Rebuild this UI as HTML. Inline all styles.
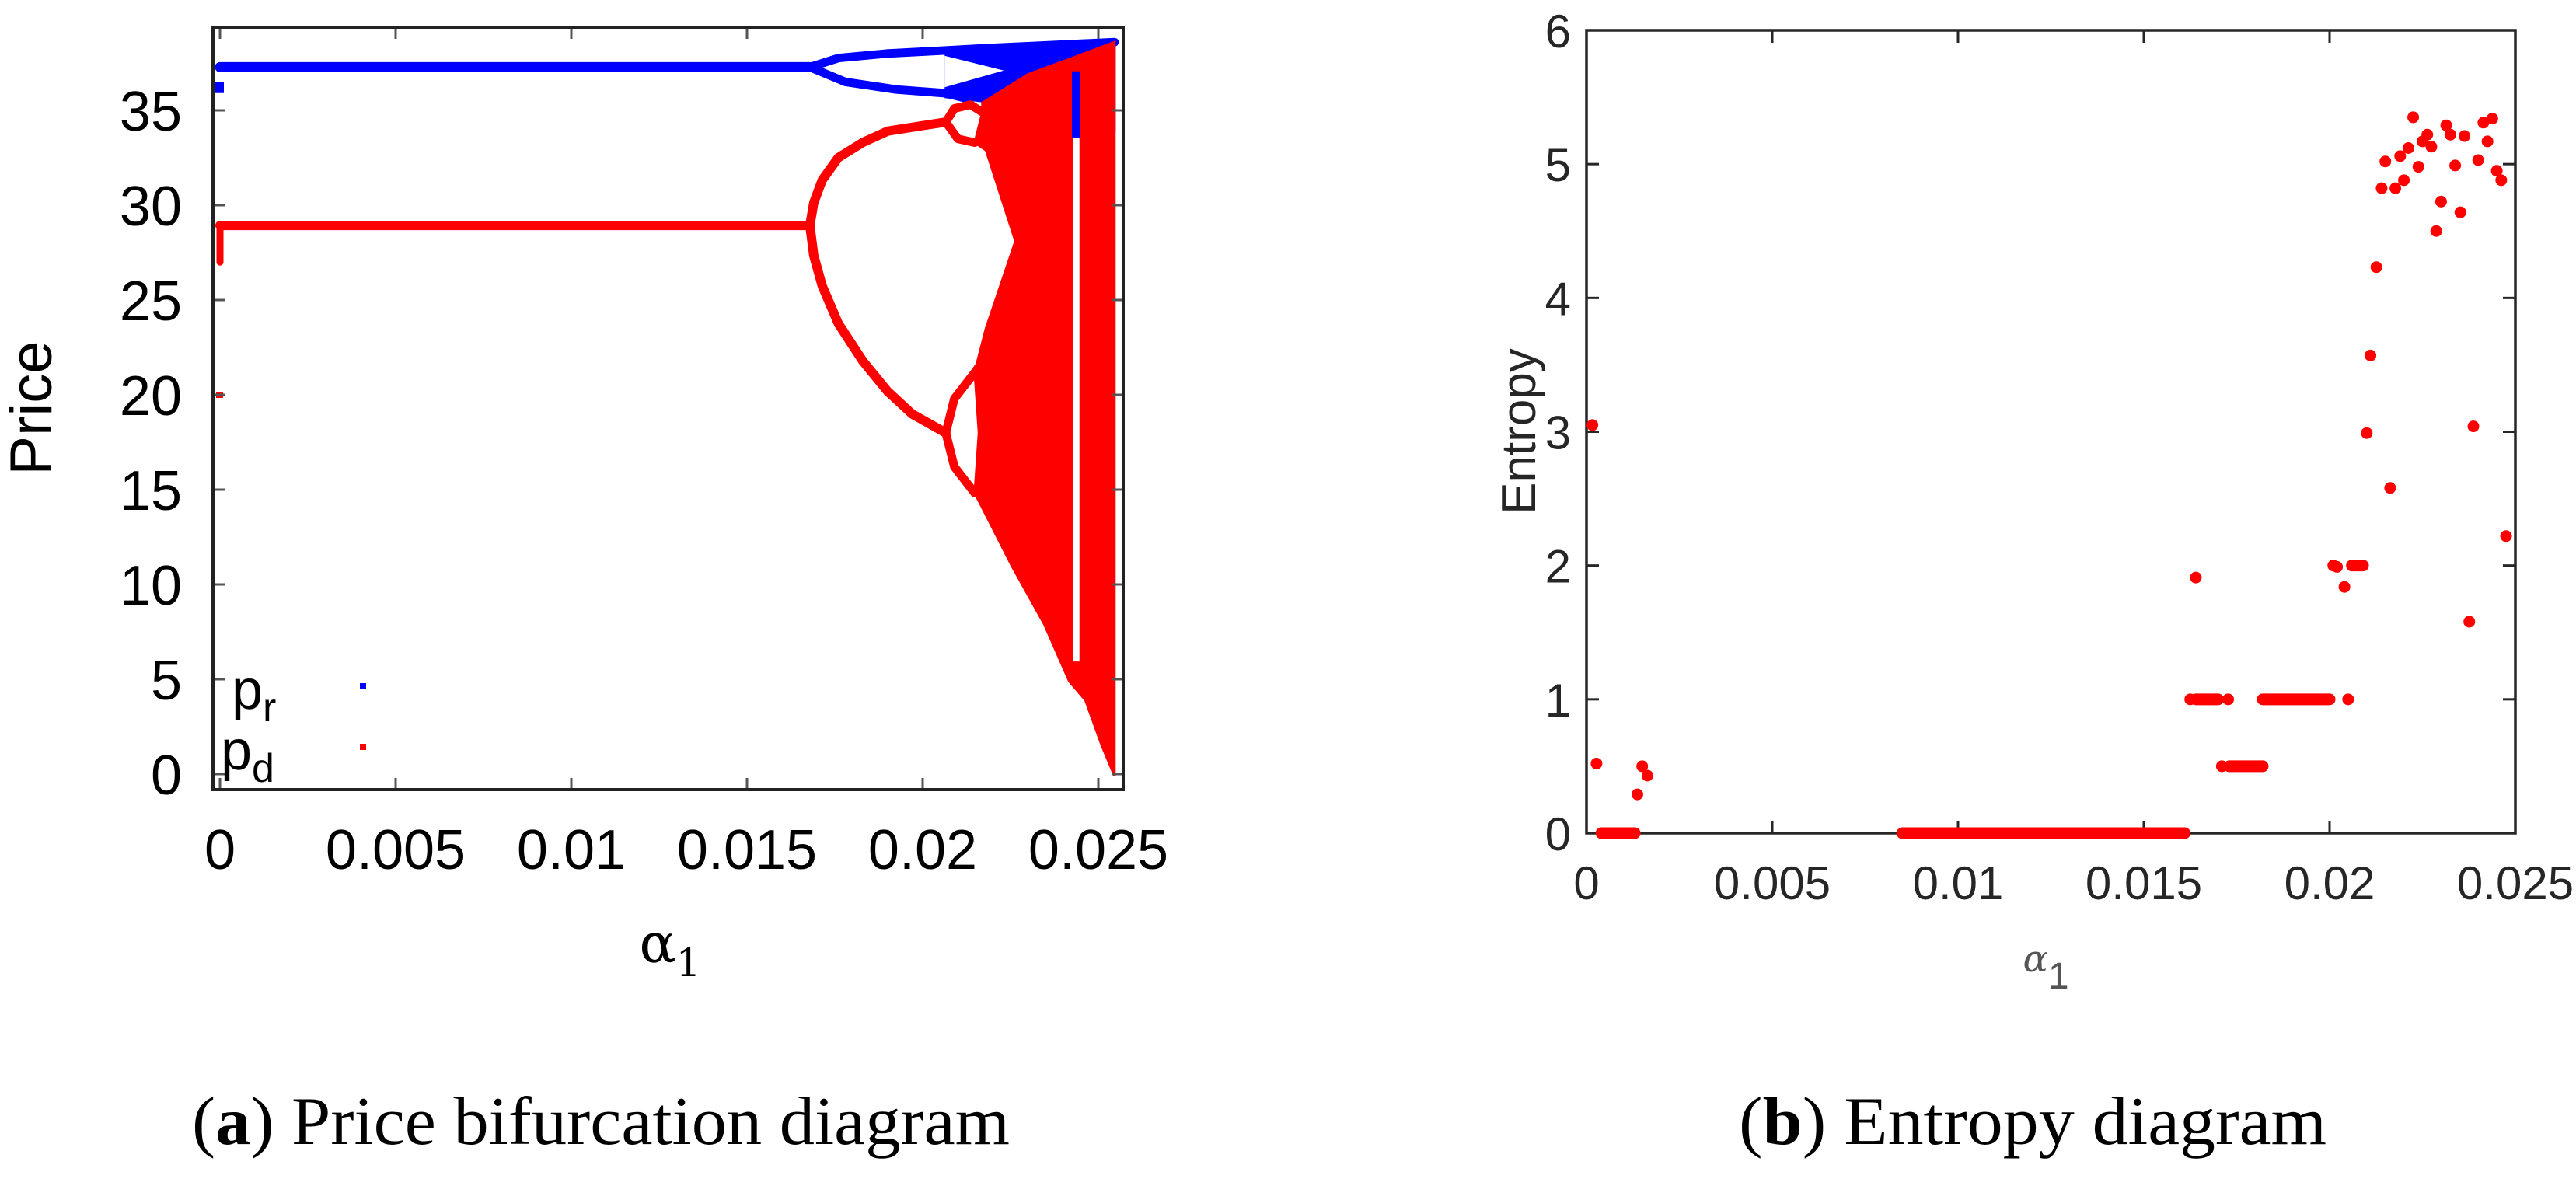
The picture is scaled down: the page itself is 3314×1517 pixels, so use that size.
<!DOCTYPE html>
<html><head><meta charset="utf-8"><style>
html,body{margin:0;padding:0;background:#fff;}
svg{display:block;}
</style></head><body>
<svg id="fig" width="3314" height="1517" viewBox="0 0 3314 1517" xmlns="http://www.w3.org/2000/svg">
<rect x="0" y="0" width="3314" height="1517" fill="#fff"/>
<g id="pa"></g>
<g id="pb"></g>
<text x="247" y="1472" font-family="Liberation Serif, serif" font-size="88" textLength="1052" lengthAdjust="spacingAndGlyphs">(<tspan font-weight="bold">a</tspan>) Price bifurcation diagram</text>
<text x="2237" y="1472" font-family="Liberation Serif, serif" font-size="88" textLength="756" lengthAdjust="spacingAndGlyphs">(<tspan font-weight="bold">b</tspan>) Entropy diagram</text>
</svg>
<script>
// ---------- Panel A data ----------
const priceXTicks = [0, 0.005, 0.01, 0.015, 0.02, 0.025];
const priceXTickLabels = ["0", "0.005", "0.01", "0.015", "0.02", "0.025"];
const priceYTicks = [0, 5, 10, 15, 20, 25, 30, 35];
const priceYTickLabels = ["0", "5", "10", "15", "20", "25", "30", "35"];
// blue (p_r) branches
const prFixed = [[0.0, 37.28], [0.01679, 37.28]];
const prUpper = [[0.01679, 37.28], [0.0176, 37.76], [0.0190, 38.0], [0.02066, 38.16], [0.0218, 38.28], [0.02323, 38.4], [0.02546, 38.6]];
const prLower = [[0.01679, 37.28], [0.0178, 36.5], [0.01925, 36.1], [0.02066, 35.9], [0.0213, 35.6]];
const prBand = [[0.02066, 38.16], [0.02546, 38.65], [0.02546, 34.0], [0.0221, 35.4], [0.02066, 35.7]];
const prWedge = [[0.02066, 37.8], [0.02218, 37.1], [0.02066, 36.3]];
const prGap = [[0.02428, 33.6], [0.02445, 33.6], [0.02445, 37.0], [0.02428, 37.0]];
// red (p_d) branches
const pdFixed = [[0.0, 28.93], [0.01679, 28.93]];
const pdUpper = [[0.01679, 28.93], [0.0169, 30.13], [0.01714, 31.32], [0.0176, 32.51], [0.0183, 33.31], [0.0190, 33.9], [0.01995, 34.18], [0.02066, 34.38]];
const pdLower = [[0.01679, 28.93], [0.0169, 27.34], [0.01714, 25.75], [0.0176, 23.76], [0.0183, 21.77], [0.0190, 20.19], [0.0197, 18.99], [0.02066, 17.99]];
const pdLoopUA = [[0.02066, 34.38], [0.0209, 35.1], [0.02136, 35.3], [0.0217, 34.9]];
const pdLoopUB = [[0.02066, 34.38], [0.0210, 33.5], [0.02148, 33.3], [0.0218, 33.6]];
const pdLoopLA = [[0.02066, 17.99], [0.0209, 19.79], [0.02148, 21.18], [0.0218, 22.0]];
const pdLoopLB = [[0.02066, 17.99], [0.0209, 16.21], [0.02148, 14.82]];
const pdChaos = [[0.0217, 35.4], [0.023, 36.9], [0.02417, 37.7], [0.02546, 38.6], [0.02546, -0.1], [0.0251, 1.5], [0.02463, 3.9], [0.02417, 4.9], [0.02346, 7.9], [0.02253, 11.0], [0.0216, 14.4], [0.02148, 14.8], [0.0216, 18.0], [0.02148, 21.2], [0.0218, 23.5], [0.02264, 28.1], [0.0218, 32.9], [0.02148, 33.3], [0.0217, 34.9]];
const pdGap = [[0.02431, 6.0], [0.02443, 6.0], [0.02443, 33.5], [0.02431, 33.5]];
const pdEdge = [[0.0, 27.0], [0.0, 29.0]];
const pdIsolated = [[0.0, 20.0]];
const prIsolated = [[0.0, 36.2]];

// ---------- Panel B data ----------
const entXTicks = [0, 0.005, 0.01, 0.015, 0.02, 0.025];
const entXTickLabels = ["0", "0.005", "0.01", "0.015", "0.02", "0.025"];
const entYTicks = [0, 1, 2, 3, 4, 5, 6];
const entYTickLabels = ["0", "1", "2", "3", "4", "5", "6"];
// runs of consecutive points: [xStart, xEnd, value]
const entRuns = [[0.0004, 0.0013, 0], [0.0085, 0.0161, 0], [0.0164, 0.0170, 1.0], [0.0173, 0.0182, 0.5], [0.0182, 0.0200, 1.0], [0.0206, 0.0209, 2.0]];
const entX = [0.00016, 0.00027, 0.00137, 0.0015, 0.00164, 0.01625, 0.0164, 0.0171, 0.01727, 0.0201, 0.0202, 0.0204, 0.0205, 0.0210, 0.0211, 0.02126, 0.0214, 0.0215, 0.02163, 0.02177, 0.0219, 0.0220, 0.02212, 0.02225, 0.02239, 0.0225, 0.02263, 0.02274, 0.02287, 0.0230, 0.02314, 0.02325, 0.02338, 0.02352, 0.02363, 0.02376, 0.02387, 0.0240, 0.02414, 0.02425, 0.02438, 0.0245, 0.02462, 0.02475];
const entY = [3.05, 0.52, 0.29, 0.5, 0.43, 1.0, 1.91, 0.5, 1.0, 2.0, 1.99, 1.84, 1.0, 2.99, 3.57, 4.23, 4.82, 5.02, 2.58, 4.82, 5.06, 4.88, 5.12, 5.35, 4.98, 5.17, 5.22, 5.13, 4.5, 4.72, 5.29, 5.22, 4.99, 4.64, 5.21, 1.58, 3.04, 5.03, 5.31, 5.17, 5.34, 4.95, 4.88, 2.22];

const NS = "http://www.w3.org/2000/svg";
function mk(parent, tag, attrs) {
  const e = document.createElementNS(NS, tag);
  for (const k in attrs) e.setAttribute(k, attrs[k]);
  parent.appendChild(e);
  return e;
}

// ---------- Panel A ----------
const A = { left: 274, right: 1445, top: 35, bottom: 1016 };
const ax = v => 283 + v / 0.025 * 1130;
const ay = v => 996 - v * 24.4;
const pa = document.getElementById('pa');
const ptsA = arr => arr.map(p => ax(p[0]).toFixed(1) + ',' + ay(p[1]).toFixed(1)).join(' ');

function lineA(arr, color, w, name) {
  const e = mk(pa, 'polyline', { points: ptsA(arr), fill: 'none', stroke: color, 'stroke-width': w, 'stroke-linejoin': 'round', 'stroke-linecap': 'round' });
  
  
}
function polyA(arr, color, name) {
  const e = mk(pa, 'polygon', { points: ptsA(arr), fill: color, stroke: color, 'stroke-width': 3 });
  
  
}
// blue
polyA(prBand, '#0000ff', 'pr-chaotic-band');
polyA(prWedge, '#ffffff', 'pr-band-gap');
lineA(prFixed, '#0000ff', 13, 'pr-fixed-point');
lineA(prUpper, '#0000ff', 11, 'pr-upper-branch');
lineA(prLower, '#0000ff', 11, 'pr-lower-branch');
// red
polyA(pdChaos, '#ff0000', 'pd-chaotic-region');
lineA(pdFixed, '#ff0000', 12, 'pd-fixed-point');
lineA(pdUpper, '#ff0000', 12, 'pd-upper-branch');
lineA(pdLower, '#ff0000', 12, 'pd-lower-branch');
lineA(pdLoopUA, '#ff0000', 11, 'pd-upper-loop-a');
lineA(pdLoopUB, '#ff0000', 11, 'pd-upper-loop-b');
lineA(pdLoopLA, '#ff0000', 11, 'pd-lower-loop-a');
lineA(pdLoopLB, '#ff0000', 11, 'pd-lower-loop-b');
polyA(pdGap, '#ffffff', 'periodic-window-gap');
polyA(prGap, '#0000ff', 'pr-window-points');
lineA(pdEdge, '#ff0000', 9, 'pd-initial-transient');
pdIsolated.forEach(p => { const c = mk(pa, 'rect', { x: ax(p[0]) - 5, y: ay(p[1]) - 4, width: 9, height: 8, fill: '#ff0000' });
  
   });
prIsolated.forEach(p => { const c = mk(pa, 'rect', { x: ax(p[0]) - 6, y: ay(p[1]) - 7, width: 11, height: 14, fill: '#0000ff' });
  
   });

// frame + ticks A
(function () {
  const g = mk(pa, 'g', {});
  
  
  priceYTicks.forEach((v, i) => {
    const y = ay(v);
    mk(g, 'line', { x1: A.left, x2: A.left + 15, y1: y, y2: y, stroke: '#555', 'stroke-width': 3 });
    mk(g, 'line', { x1: A.right - 15, x2: A.right, y1: y, y2: y, stroke: '#555', 'stroke-width': 3 });
    const t = mk(g, 'text', { x: 234, y: y + 26, 'text-anchor': 'end', 'font-family': 'Liberation Sans, sans-serif', 'font-size': 72, fill: '#000' });
    t.textContent = priceYTickLabels[i];
    
    
  });
  priceXTicks.forEach((v, i) => {
    const x = ax(v);
    mk(g, 'line', { x1: x, x2: x, y1: A.bottom, y2: A.bottom - 15, stroke: '#555', 'stroke-width': 3 });
    mk(g, 'line', { x1: x, x2: x, y1: A.top, y2: A.top + 15, stroke: '#555', 'stroke-width': 3 });
    const t = mk(g, 'text', { x: x, y: 1118, 'text-anchor': 'middle', 'font-family': 'Liberation Sans, sans-serif', 'font-size': 72, fill: '#000' });
    t.textContent = priceXTickLabels[i];
    
    
  });
  mk(g, 'rect', { x: A.left, y: A.top, width: A.right - A.left, height: A.bottom - A.top, fill: 'none', stroke: '#222', 'stroke-width': 4 });
})();
(function () {
  const t = mk(pa, 'text', { x: 0, y: 0, transform: 'translate(66,525) rotate(-90)', 'text-anchor': 'middle', 'font-family': 'Liberation Sans, sans-serif', 'font-size': 76, fill: '#000' });
  t.textContent = 'Price';
  
  
  const xt = mk(pa, 'text', { x: 862, y: 1238, 'text-anchor': 'middle', 'font-family': 'DejaVu Serif, Liberation Serif, serif', 'font-size': 70, fill: '#000' });
  xt.innerHTML = 'α<tspan font-size="50" dy="18">1</tspan>';
  
  
  const l1 = mk(pa, 'text', { x: 298, y: 912, 'font-family': 'Liberation Sans, sans-serif', 'font-size': 72, fill: '#000' });
  l1.innerHTML = 'p<tspan font-size="52" dy="16">r</tspan>';
  
  
  const d1 = mk(pa, 'rect', { x: 463, y: 879, width: 8, height: 8, fill: '#0000ff' });
  
  
  const l2 = mk(pa, 'text', { x: 284, y: 990, 'font-family': 'Liberation Sans, sans-serif', 'font-size': 72, fill: '#000' });
  l2.innerHTML = 'p<tspan font-size="52" dy="16">d</tspan>';
  
  
  const d2 = mk(pa, 'rect', { x: 463, y: 957, width: 8, height: 8, fill: '#ff0000' });
  
  
})();

// ---------- Panel B ----------
const B = { left: 2041, right: 3236, top: 39, bottom: 1072 };
const bx = v => B.left + v / 0.025 * (B.right - B.left);
const by = v => B.bottom - v / 6 * (B.bottom - B.top);
const pb = document.getElementById('pb');
(function () {
  const g = mk(pb, 'g', {});
  
  
  entYTicks.forEach((v, i) => {
    const y = by(v);
    mk(g, 'line', { x1: B.left, x2: B.left + 16, y1: y, y2: y, stroke: '#262626', 'stroke-width': 3 });
    mk(g, 'line', { x1: B.right - 16, x2: B.right, y1: y, y2: y, stroke: '#262626', 'stroke-width': 3 });
    const t = mk(g, 'text', { x: 2021, y: y + 22, 'text-anchor': 'end', 'font-family': 'Liberation Sans, sans-serif', 'font-size': 60, fill: '#262626' });
    t.textContent = entYTickLabels[i];
    
    
  });
  entXTicks.forEach((v, i) => {
    const x = bx(v);
    mk(g, 'line', { x1: x, x2: x, y1: B.bottom, y2: B.bottom - 16, stroke: '#262626', 'stroke-width': 3 });
    mk(g, 'line', { x1: x, x2: x, y1: B.top, y2: B.top + 16, stroke: '#262626', 'stroke-width': 3 });
    const t = mk(g, 'text', { x: x, y: 1157, 'text-anchor': 'middle', 'font-family': 'Liberation Sans, sans-serif', 'font-size': 60, fill: '#262626' });
    t.textContent = entXTickLabels[i];
    
    
  });
  mk(g, 'rect', { x: B.left, y: B.top, width: B.right - B.left, height: B.bottom - B.top, fill: 'none', stroke: '#262626', 'stroke-width': 3.5 });
})();
entRuns.forEach(r => {
  const e = mk(pb, 'line', { x1: bx(r[0]), x2: bx(r[1]), y1: by(r[2]), y2: by(r[2]), stroke: '#ff0000', 'stroke-width': 15, 'stroke-linecap': 'round' });
  
  
});
entX.forEach((v, i) => {
  const c = mk(pb, 'circle', { cx: bx(v), cy: by(entY[i]), r: 7.5, fill: '#ff0000' });
  
  
});
(function () {
  const t = mk(pb, 'text', { x: 0, y: 0, transform: 'translate(1975,555) rotate(-90)', 'text-anchor': 'middle', 'font-family': 'Liberation Sans, sans-serif', 'font-size': 62, fill: '#262626' });
  t.textContent = 'Entropy';
  
  
  const xt = mk(pb, 'text', { x: 2632, y: 1250, 'text-anchor': 'middle', 'font-family': 'DejaVu Serif, Liberation Serif, serif', 'font-style': 'italic', 'font-size': 48, fill: '#555' });
  xt.innerHTML = 'α<tspan font-style="normal" font-family="Liberation Sans, sans-serif" font-size="48" dy="22">1</tspan>';
  
  
})();
</script>
</body></html>
